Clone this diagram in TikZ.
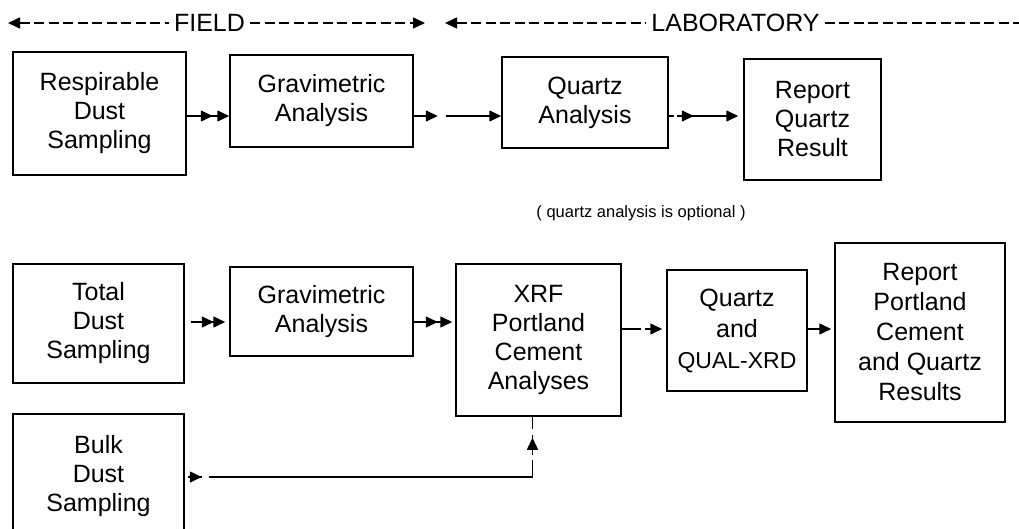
\documentclass[tikz,border=0pt]{standalone}
\usepackage{fontspec}
\setmainfont{Liberation Sans}
\usetikzlibrary{arrows.meta,decorations.markings}

\tikzset{
  box/.style={draw, line width=1.5pt, align=center, inner sep=0pt,
    font=\fontsize{25}{29}\selectfont},
  tip/.tip={Triangle[length=12pt,width=11pt]},
  link/.style={line width=1.5pt, -tip},
  headat/.style={postaction={decorate,decoration={markings,
    mark=at position #1 with {\arrow{tip}}}}},
  hdash/.style={line width=1.5pt, dash pattern=on 10pt off 4.5pt},
  hlabel/.style={inner sep=5pt, font=\fontsize{25}{29}\selectfont},
}

\begin{document}
\begin{tikzpicture}[x=1pt,y=-1pt,line join=miter]
  \useasboundingbox (0,0) rectangle (1019,529);
  \clip (0,0) rectangle (1019,529);

  % header
  \node[hlabel] (field) at (209.5,23) {FIELD};
  \node[hlabel] (lab) at (735.5,23) {LABORATORY};
  \coordinate (fieldL) at (8,23);
  \coordinate (fieldR) at (425,23);
  \coordinate (labL) at (445,23);
  \coordinate (labR) at (1019,23);
  \draw[hdash, tip-] (fieldL) -- (field.west);
  \draw[hdash, -tip] (field.east) -- (fieldR);
  \draw[hdash, tip-] (labL) -- (lab.west);
  \draw[hdash] (lab.east) -- (labR);

  % rows
  \coordinate (rowA) at (0,116);
  \coordinate (rowB) at (0,322);
  \coordinate (rowC) at (0,329);
  \coordinate (rowD) at (0,477);

  % respirable dust
  \node[box, minimum width=173pt, minimum height=123pt] (resp) at (99.5,113.5)
    {Respirable\\Dust\\Sampling};
  \node[box, minimum width=183pt, minimum height=92pt] (grav1) at (321.5,101)
    {Gravimetric\\Analysis};
  \node[box, minimum width=166pt, minimum height=91pt] (qanal) at (585,102.5)
    {Quartz\\Analysis};
  \node[box, minimum width=137pt, minimum height=121pt] (repq) at (812.5,119.5)
    {Report\\Quartz\\Result};
  \node[font=\fontsize{16.5}{20}\selectfont] (opt) at (641,213)
    {( quartz analysis is optional )};

  % total and bulk dust
  \node[box, minimum width=171pt, minimum height=119pt] (total) at (98.5,323.5)
    {Total\\Dust\\Sampling};
  \node[box, minimum width=183pt, minimum height=89pt] (grav2) at (321.5,311.5)
    {Gravimetric\\Analysis};
  \node[box, minimum width=165pt, minimum height=152pt] (xrf) at (538.5,340)
    {XRF\\Portland\\Cement\\Analyses};
  \node[box, minimum width=140pt, minimum height=121pt,
    font=\fontsize{25}{31}\selectfont] (qxrd) at (737,330.5)
    {Quartz\\and\\{\fontsize{23}{31}\selectfont QUAL-XRD}};
  \node[box, minimum width=170pt, minimum height=179pt,
    font=\fontsize{25}{30}\selectfont] (repc) at (920,332.5)
    {Report\\Portland\\Cement\\and Quartz\\Results};
  \node[box, minimum width=171pt, minimum height=124pt] (bulk) at (98.5,476)
    {Bulk\\Dust\\Sampling};

  % connectors
  \draw[link, headat=26pt] (resp.east |- rowA) -- (grav1.west |- rowA);
  \draw[link, headat=24pt, dash pattern=on 22pt off 10pt on 80pt]
    (grav1.east |- rowA) -- (qanal.west |- rowA);
  \draw[link, headat=25pt, dash pattern=on 5pt off 3pt on 5pt off 4pt on 80pt]
    (qanal.east |- rowA) -- ([xshift=-5pt]repq.west |- rowA);
  \draw[link, headat=23pt] ([xshift=6pt]total.east |- rowB)
    -- ([xshift=-4pt]grav2.west |- rowB);
  \draw[link, headat=24pt] (grav2.east |- rowB) -- ([xshift=-3pt]xrf.west |- rowB);
  \draw[link, dash pattern=on 19pt off 4pt on 80pt]
    (xrf.east |- rowC) -- ([xshift=-4pt]qxrd.west |- rowC);
  \draw[link] (qxrd.east |- rowC) -- ([xshift=-3pt]repc.west |- rowC);
  \draw[line width=1.5pt, headat=14pt, headat=-21pt,
    dash pattern=on 14pt off 7pt on 341pt off 5pt on 20pt off 6pt on 20pt]
    ([xshift=3pt]bulk.east |- rowD) -- ([xshift=-6pt]xrf.south |- rowD)
    -- ([xshift=-6pt]xrf.south);
\end{tikzpicture}
\end{document}
